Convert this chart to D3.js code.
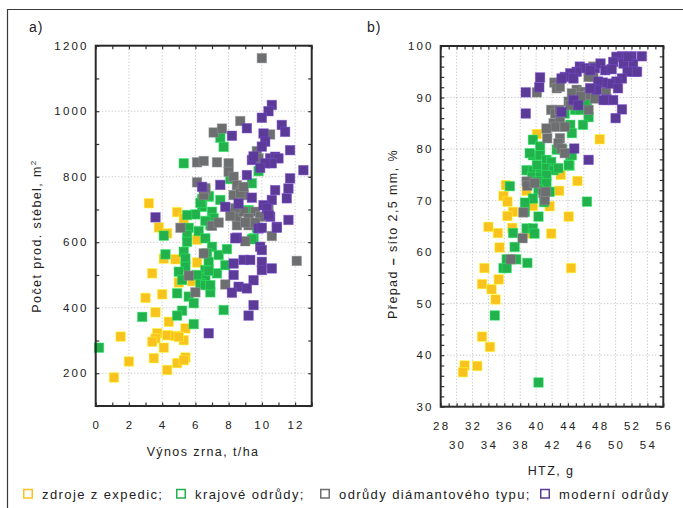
<!DOCTYPE html>
<html lang="cs">
<head>
<meta charset="utf-8">
<title>Výnos a HTZ</title>
<script src="https://cdn.jsdelivr.net/npm/d3@7"></script>
<style>
body{ margin:0; background:#fff; }
svg{ display:block; }
text{ font-family:"Liberation Sans", Arial, sans-serif; fill:#222; }
.tick{ font-size:11.5px; letter-spacing:2.2px; }
.title{ font-size:12.5px; letter-spacing:1.4px; }
.leg{ font-size:13px; letter-spacing:1.4px; }
</style>
</head>
<body>
<script>
let w = 683;
let h = 508;

// groups (legend order)
let groups = ["zdroje z expedic;", "krajové odrůdy;", "odrůdy diámantového typu;", "moderní odrůdy"];
let colors = ["#f9c31f", "#22b14c", "#6d6e70", "#5b3a98"];

// a) vynos zrna t/ha vs pocet prod. stebel
let aZdroje = [[3.2,719],[4.9,692],[5.3,673],[3.8,645],[4.3,627],[6.1,608],[4.8,548],[4.1,550],[6.1,538],[3.4,505],[5.0,477],[5.8,481],[3.0,430],[4.0,441],[3.6,386],[4.4,357],[5.4,337],[3.7,322],[3.6,306],[3.4,296],[4.3,316],[4.8,314],[5.3,301],[5.0,311],[1.5,312],[4.1,278],[2.0,236],[3.5,246],[4.9,231],[5.4,248],[5.3,240],[4.3,210],[1.1,187]];
let aKrajove = [[5.3,841],[7.5,919],[7.7,891],[9.8,817],[8.1,793],[9.4,780],[6.4,732],[6.8,739],[6.4,708],[7.5,729],[6.8,741],[6.3,720],[4.1,620],[6.0,685],[5.5,683],[7.0,693],[7.1,673],[6.9,652],[6.6,665],[5.6,644],[6.2,634],[5.5,622],[5.5,601],[5.3,571],[5.4,550],[5.4,525],[6.6,612],[7.0,586],[6.7,566],[7.4,561],[6.8,540],[6.6,515],[6.6,494],[7.3,505],[7.9,579],[7.8,530],[9.2,698],[8.2,688],[9.1,696],[9.5,612],[9.7,644],[9.4,609],[4.2,563],[5.0,510],[4.9,444],[5.6,434],[6.9,447],[5.2,391],[4.9,376],[5.9,414],[7.7,393],[2.8,372],[5.9,350],[0.2,278],[6.3,474],[6.6,469],[6.9,469],[5.2,485],[6.8,513],[6.1,500]];
let aDiamant = [[10.0,1162],[8.7,970],[7.1,935],[7.6,947],[10.5,929],[9.7,878],[9.8,856],[6.1,844],[6.5,848],[7.3,844],[8.0,841],[8.0,815],[8.3,800],[6.1,783],[6.6,759],[6.5,744],[8.5,774],[8.8,759],[8.3,744],[8.9,744],[8.7,750],[8.9,769],[6.6,765],[5.1,644],[6.5,566],[7.8,471],[8.5,652],[9.2,652],[8.5,678],[8.9,693],[9.6,693],[9.9,678],[9.2,673],[10.4,700],[10.4,683],[10.6,619],[9.0,603],[12.1,543],[6.0,447],[8.4,704],[9.0,660],[7.0,650],[7.4,660],[8.1,680],[5.6,498],[9.6,660]];
let aModerni = [[10.6,1019],[10.4,1000],[10.0,980],[9.1,948],[8.2,925],[10.1,932],[10.2,907],[10.0,892],[11.2,958],[11.4,937],[11.7,881],[9.4,851],[9.5,862],[10.5,856],[10.8,861],[11.0,856],[10.6,841],[10.2,841],[9.9,827],[12.5,820],[11.7,795],[9.1,805],[7.5,775],[6.4,769],[11.6,764],[11.5,734],[10.8,759],[10.6,729],[9.4,736],[3.6,676],[8.6,718],[7.8,708],[10.1,713],[10.3,703],[10.5,678],[10.9,647],[11.6,668],[8.5,614],[9.8,642],[9.9,586],[10.0,576],[8.3,535],[8.9,546],[9.3,546],[10.0,540],[10.6,520],[10.0,515],[8.3,500],[9.5,484],[8.6,464],[9.1,459],[8.2,446],[9.5,408],[9.2,376],[6.8,322],[10.4,683],[10.0,644],[8.4,612],[10.9,644]];

// b) HTZ g vs prepad nad sitem 2,5 mm
let bZdroje = [[40.1,82.9],[48.0,81.9],[43.1,75.0],[45.2,73.8],[36.2,73.0],[35.9,70.9],[36.4,69.8],[38.8,71.9],[42.9,71.9],[39.2,69.0],[39.6,69.0],[41.7,68.9],[37.1,67.8],[36.4,67.0],[44.1,66.9],[34.0,64.9],[35.2,63.7],[37.0,64.7],[38.9,63.6],[41.9,63.6],[35.4,60.9],[33.5,56.9],[44.4,56.9],[35.3,54.7],[33.2,53.8],[34.4,52.8],[34.9,50.8],[33.2,43.6],[34.2,41.6],[31.0,38.0],[30.8,36.7],[32.6,37.9]];
let bKrajove = [[46.4,89.0],[44.9,87.6],[45.5,87.6],[43.6,86.9],[46.6,86.2],[44.3,84.7],[45.9,84.7],[44.5,83.1],[39.6,81.8],[40.5,80.5],[42.6,79.9],[43.3,79.9],[44.3,78.8],[39.6,78.8],[40.5,78.8],[41.3,77.9],[41.9,77.5],[38.8,75.9],[39.6,75.8],[40.5,75.9],[41.3,76.3],[42.2,75.9],[42.8,76.3],[44.2,76.8],[39.5,74.6],[40.5,74.6],[41.3,74.9],[40.3,73.7],[41.3,73.4],[41.7,71.7],[40.3,72.1],[39.0,73.4],[36.7,72.8],[39.6,70.4],[38.6,69.6],[41.0,69.7],[46.4,69.8],[40.3,66.9],[38.8,64.6],[39.6,64.6],[37.1,63.7],[39.8,63.6],[37.3,61.0],[36.3,58.6],[37.5,58.6],[35.9,56.9],[36.3,56.9],[38.9,57.9],[34.8,47.7],[40.3,34.7],[39.2,79.2],[40.1,76.9],[44.5,78.8],[44.1,76.9],[38.6,67.8],[46.2,88.9]];
let bDiamant = [[47.2,96.0],[47.2,94.0],[46.6,94.0],[42.3,92.9],[42.6,91.8],[40.1,91.0],[43.0,92.1],[45.1,91.5],[46.0,91.1],[46.6,90.5],[47.4,89.8],[44.5,90.8],[45.6,90.2],[48.8,91.1],[44.1,89.2],[44.3,88.5],[41.9,87.6],[42.4,86.9],[42.9,87.6],[46.6,87.6],[42.2,85.0],[43.0,85.3],[42.4,84.3],[41.3,84.0],[43.6,84.3],[43.0,82.1],[42.8,81.1],[43.2,80.1],[41.4,82.1],[43.6,79.2],[38.8,73.7],[38.9,72.9],[40.9,71.5],[41.1,70.1],[38.4,67.7],[38.3,62.7],[36.8,58.6],[39.8,73.4],[41.2,71.7]];
let bModerni = [[53.3,98.0],[52.0,98.0],[50.8,98.0],[50.1,97.9],[49.7,96.9],[51.0,96.6],[52.2,96.5],[52.4,95.0],[51.5,95.0],[50.8,93.7],[50.1,93.1],[49.3,92.7],[48.4,92.9],[47.8,93.1],[45.5,96.0],[46.1,95.7],[45.1,95.0],[44.3,94.7],[43.6,94.0],[43.2,93.7],[44.7,93.7],[47.4,95.7],[48.1,96.6],[48.7,95.3],[46.8,95.3],[40.5,93.9],[40.4,92.0],[38.7,91.0],[38.7,86.9],[50.8,87.7],[50.0,86.0],[48.9,89.6],[48.5,89.5],[47.6,91.5],[46.8,91.8],[50.3,91.8],[44.7,89.5],[45.3,88.5],[43.2,87.2],[46.6,77.9],[44.8,80.1],[49.7,89.5],[52.7,95.0],[51.6,97.9],[49.5,95.5]];

// tick labels
let aXTicks = [0, 2, 4, 6, 8, 10, 12];
let aYTicks = [200, 400, 600, 800, 1000, 1200];
let bXTicksTop = [28, 32, 36, 40, 44, 48, 52, 56];
let bXTicksBottom = [30, 34, 38, 42, 46, 50, 54];
let bYTicks = [30, 40, 50, 60, 70, 80, 90, 100];

var svg = d3.select("body")
    .append("svg")
    .attr("width", w)
    .attr("height", h);

// outer frame (runs off the page at right and bottom)
svg.append("path")
    .attr("d", "M7.5," + (h + 5) + "V9.5H" + (w + 5))
    .attr("fill", "none")
    .attr("stroke", "#3a3a3a")
    .attr("stroke-width", 1.2);

function drawPanel(opt){
    let x = d3.scaleLinear().domain(opt.xDomain).range([opt.left, opt.right]);
    let y = d3.scaleLinear().domain(opt.yDomain).range([opt.bottom, opt.top]);
    let g = svg.append("g");

    // dotted grid
    g.selectAll(".gx").data(opt.xGrid).enter().append("line")
        .attr("x1", d => x(d)).attr("x2", d => x(d))
        .attr("y1", opt.top).attr("y2", opt.bottom)
        .attr("stroke", "#b8b8b8").attr("stroke-width", 0.8)
        .attr("stroke-dasharray", "1.2,2");
    g.selectAll(".gy").data(opt.yGrid).enter().append("line")
        .attr("y1", d => y(d)).attr("y2", d => y(d))
        .attr("x1", opt.left).attr("x2", opt.right)
        .attr("stroke", "#b8b8b8").attr("stroke-width", 0.8)
        .attr("stroke-dasharray", "1.2,2");

    // inward ticks on all four sides, d3 axes with negative size
    let xt = d3.range(opt.xDomain[0], opt.xDomain[1] + 0.001, opt.xMinor);
    let yt = d3.range(opt.yDomain[0], opt.yDomain[1] + 0.001, opt.yMinor);
    let axB = d3.axisBottom(x).tickValues(xt).tickSize(-3.5).tickFormat("");
    let axT = d3.axisTop(x).tickValues(xt).tickSize(-3.5).tickFormat("");
    let axL = d3.axisLeft(y).tickValues(yt).tickSize(-3.5).tickFormat("");
    let axR = d3.axisRight(y).tickValues(yt).tickSize(-3.5).tickFormat("");
    [[axB, "0," + opt.bottom], [axT, "0," + opt.top], [axL, opt.left + ",0"], [axR, opt.right + ",0"]].forEach(function(a){
        let ga = g.append("g").attr("transform", "translate(" + a[1] + ")").call(a[0]);
        ga.select(".domain").remove();
        ga.selectAll("line").attr("stroke", "#333").attr("stroke-width", 1.2);
    });

    // points, one group after the other
    opt.series.forEach(function(s, i){
        g.selectAll(".p" + i).data(s).enter().append("rect")
            .attr("x", d => x(d[0]) - 4.75)
            .attr("y", d => y(d[1]) - 4.75)
            .attr("width", 9.5).attr("height", 9.5)
            .attr("fill", colors[i])
            .attr("stroke", d3.color(colors[i]).brighter(0.9))
            .attr("stroke-opacity", 0.6)
            .attr("stroke-width", 0.8);
    });

    // axis box
    g.append("rect")
        .attr("x", opt.left).attr("y", opt.top)
        .attr("width", opt.right - opt.left).attr("height", opt.bottom - opt.top)
        .attr("fill", "none").attr("stroke", "#2a2a2a").attr("stroke-width", 2);

    // y tick labels
    g.selectAll(".yl").data(opt.yLabels).enter().append("text")
        .attr("class", "tick")
        .attr("x", opt.left - 7).attr("y", d => y(d) + 4)
        .attr("text-anchor", "end")
        .text(d => d);

    // x tick labels (one or two rows)
    opt.xLabels.forEach(function(row, r){
        g.selectAll(".xl" + r).data(row).enter().append("text")
            .attr("class", "tick")
            .attr("x", d => x(d) + 1).attr("y", opt.bottom + 23 + r * 19)
            .attr("text-anchor", "middle")
            .text(d => d);
    });

    g.append("text").attr("class", "title")
        .attr("x", opt.xTitlePos[0]).attr("y", opt.xTitlePos[1])
        .attr("text-anchor", "middle")
        .text(opt.xTitle);

    let yt2 = g.append("text").attr("class", "title")
        .attr("transform", "translate(" + opt.yTitlePos[0] + "," + opt.yTitlePos[1] + ") rotate(-90)")
        .attr("text-anchor", "middle");
    opt.yTitle(yt2);

    g.append("text").attr("class", "title")
        .attr("x", opt.tag[0]).attr("y", opt.tag[1])
        .style("font-size", "14px").style("letter-spacing", "1px")
        .text(opt.tag[2]);
}

drawPanel({
    left: 95.7, right: 311.7, top: 45.7, bottom: 406,
    xDomain: [0, 13], yDomain: [100, 1200],
    xGrid: [2, 4, 6, 8, 10, 12], yGrid: [200, 400, 600, 800, 1000],
    xMinor: 1, yMinor: 100,
    series: [aZdroje, aKrajove, aDiamant, aModerni],
    xLabels: [aXTicks], yLabels: aYTicks,
    xTitle: "Výnos zrna, t/ha", xTitlePos: [203, 456],
    yTitle: function(t){
        t.append("tspan").text("Počet prod. stébel, m");
        t.append("tspan").attr("dy", -5).style("font-size", "8px").text("2");
    },
    yTitlePos: [41, 236],
    tag: [29, 32, "a)"]
});

drawPanel({
    left: 440.7, right: 663.3, top: 46, bottom: 406.7,
    xDomain: [28, 56], yDomain: [30, 100],
    xGrid: d3.range(30, 55, 2), yGrid: [40, 50, 60, 70, 80, 90],
    xMinor: 1, yMinor: 2,
    series: [bZdroje, bKrajove, bDiamant, bModerni],
    xLabels: [bXTicksTop, bXTicksBottom], yLabels: bYTicks,
    xTitle: "HTZ, g", xTitlePos: [551, 475],
    yTitle: function(t){
        t.append("tspan").text("Přepad ");
        t.append("tspan").style("font-weight", "bold").text("–");
        t.append("tspan").text(" síto 2,5 mm, %");
    },
    yTitlePos: [397, 234],
    tag: [367, 32, "b)"]
});

// legend along the bottom
let legX = [23, 176, 320, 540];
let leg = svg.selectAll(".legend").data(groups).enter().append("g");
leg.append("rect")
    .attr("x", (d, i) => legX[i] + 0.75).attr("y", 489.5)
    .attr("width", 8.5).attr("height", 8.5)
    .attr("fill", "none")
    .attr("stroke", (d, i) => colors[i])
    .attr("stroke-width", 1.5);
leg.append("text")
    .attr("class", "leg")
    .attr("x", (d, i) => legX[i] + 19).attr("y", 498.5)
    .text(d => d);
</script>
</body>
</html>
